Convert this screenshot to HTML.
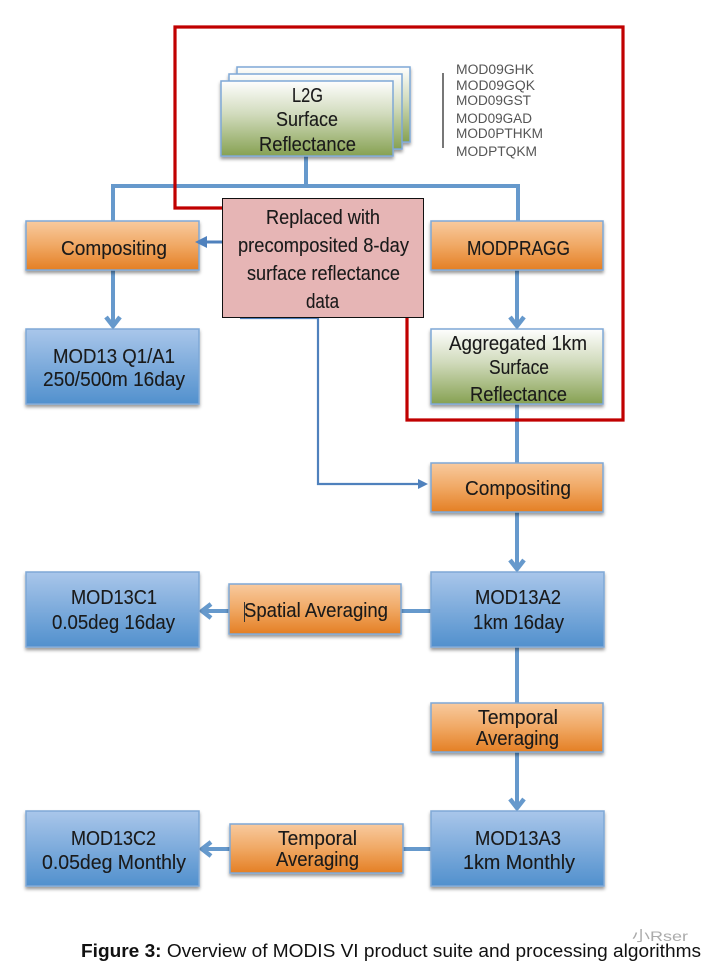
<!DOCTYPE html>
<html>
<head>
<meta charset="utf-8">
<style>
html,body{margin:0;padding:0;background:#fff}
svg{display:block;filter:blur(.35px)}
.t{font-family:"Liberation Sans",sans-serif;font-size:20.500px;fill:#1a1a1a;stroke:#1a1a1a;stroke-width:.12}
.m{font-family:"Liberation Sans",sans-serif;font-size:13.500px;fill:#555}
.c{font-family:"Liberation Sans",sans-serif;font-size:18.500px;fill:#111}
</style>
</head>
<body>
<svg width="708" height="966" viewBox="0 0 708 966" xmlns="http://www.w3.org/2000/svg">
<defs>
<linearGradient id="o" x1="0" y1="0" x2="0" y2="1"><stop offset="0" stop-color="#f8ca9f"/><stop offset=".5" stop-color="#f0a864"/><stop offset="1" stop-color="#e47f24"/></linearGradient>
<linearGradient id="b" x1="0" y1="0" x2="0" y2="1"><stop offset="0" stop-color="#a9c6ea"/><stop offset="1" stop-color="#5190cd"/></linearGradient>
<linearGradient id="g" x1="0" y1="0" x2="0" y2="1"><stop offset="0" stop-color="#fefefe"/><stop offset=".45" stop-color="#d0dabb"/><stop offset="1" stop-color="#86a152"/></linearGradient>
<filter id="s" x="-5%" y="-10%" width="110%" height="125%"><feDropShadow dx="0" dy="2.500" stdDeviation="1.500" flood-color="#000" flood-opacity=".4"/></filter>
</defs>

<!-- blue connectors -->
<g fill="none" stroke="#6699cc" stroke-width="4">
<path d="M306 156V186M113 221V186H518V221"/>
<path d="M113 270V326M517 270V326M517 404V463M517 512V569M517 647V703M517 752V808"/>
<path d="M431 611H401M229 611H203M431 849H403M230 849H203"/>
</g>
<g fill="none" stroke="#6699cc" stroke-width="4.500">
<path d="M106 317L113 326L120 317M510 317L517 326L524 317M510 560L517 569L524 560M510 799L517 808L524 799M211 604L202 611L211 618M211 842L202 849L211 856"/>
</g>

<!-- red outline -->
<path d="M222 208H175V27H623V420H407V318" fill="none" stroke="#c00000" stroke-width="3.200"/>

<!-- L2G stack -->
<g stroke="#7fa8d6" stroke-width="1.500" filter="url(#s)">
<rect x="237" y="67" width="173" height="75" fill="url(#g)"/>
<rect x="229" y="74" width="173" height="75" fill="url(#g)"/>
<rect x="221" y="81" width="172" height="75" fill="url(#g)"/>
</g>

<!-- boxes -->
<g stroke="#7fa8d6" stroke-width="1.500" filter="url(#s)">
<rect x="26" y="221" width="173" height="49" fill="url(#o)"/>
<rect x="431" y="221" width="172" height="49" fill="url(#o)"/>
<rect x="26" y="329" width="173" height="75" fill="url(#b)"/>
<rect x="431" y="329" width="172" height="75" fill="url(#g)"/>
<rect x="431" y="463" width="172" height="49" fill="url(#o)"/>
<rect x="26" y="572" width="173" height="75" fill="url(#b)"/>
<rect x="431" y="572" width="173" height="75" fill="url(#b)"/>
<rect x="229" y="584" width="172" height="50" fill="url(#o)"/>
<rect x="431" y="703" width="172" height="49" fill="url(#o)"/>
<rect x="26" y="811" width="173" height="75" fill="url(#b)"/>
<rect x="431" y="811" width="173" height="75" fill="url(#b)"/>
<rect x="230" y="824" width="173" height="49" fill="url(#o)"/>
</g>

<!-- thin blue connector & pink box -->
<path d="M240 318H318V484H420" fill="none" stroke="#4f81bd" stroke-width="2.200"/>
<path d="M428 484L418 479V489Z" fill="#4f81bd"/>
<path d="M222 242H204" stroke="#4f81bd" stroke-width="3"/>
<path d="M195 242L207 236V248Z" fill="#4f81bd"/>
<rect x="222.500" y="198.500" width="201" height="119" fill="#e6b5b5" stroke="#111" stroke-width="1"/>

<!-- side list -->
<line x1="443" y1="73" x2="443" y2="148" stroke="#777" stroke-width="2"/>
<text class="m" x="456" y="74" textLength="78" lengthAdjust="spacingAndGlyphs">MOD09GHK</text>
<text class="m" x="456" y="90" textLength="79" lengthAdjust="spacingAndGlyphs">MOD09GQK</text>
<text class="m" x="456" y="105" textLength="75" lengthAdjust="spacingAndGlyphs">MOD09GST</text>
<text class="m" x="456" y="123" textLength="76" lengthAdjust="spacingAndGlyphs">MOD09GAD</text>
<text class="m" x="456" y="138" textLength="87" lengthAdjust="spacingAndGlyphs">MOD0PTHKM</text>
<text class="m" x="456" y="156" textLength="81" lengthAdjust="spacingAndGlyphs">MODPTQKM</text>

<!-- labels -->
<text class="t" x="292" y="102" textLength="31" lengthAdjust="spacingAndGlyphs">L2G</text>
<text class="t" x="276" y="126" textLength="62" lengthAdjust="spacingAndGlyphs">Surface</text>
<text class="t" x="259" y="151" textLength="97" lengthAdjust="spacingAndGlyphs">Reflectance</text>
<text class="t" x="61" y="255" textLength="106" lengthAdjust="spacingAndGlyphs">Compositing</text>
<text class="t" x="467" y="255" textLength="103" lengthAdjust="spacingAndGlyphs">MODPRAGG</text>
<text class="t" x="53" y="363" textLength="122" lengthAdjust="spacingAndGlyphs">MOD13 Q1/A1</text>
<text class="t" x="43" y="386" textLength="142" lengthAdjust="spacingAndGlyphs">250/500m 16day</text>
<text class="t" x="449" y="350" textLength="138" lengthAdjust="spacingAndGlyphs">Aggregated 1km</text>
<text class="t" x="489" y="374" textLength="60" lengthAdjust="spacingAndGlyphs">Surface</text>
<text class="t" x="470" y="401" textLength="97" lengthAdjust="spacingAndGlyphs">Reflectance</text>
<text class="t" x="465" y="495" textLength="106" lengthAdjust="spacingAndGlyphs">Compositing</text>
<text class="t" x="266" y="224" textLength="114" lengthAdjust="spacingAndGlyphs">Replaced with</text>
<text class="t" x="238" y="252" textLength="171" lengthAdjust="spacingAndGlyphs">precomposited 8-day</text>
<text class="t" x="247" y="280" textLength="153" lengthAdjust="spacingAndGlyphs">surface reflectance</text>
<text class="t" x="306" y="308" textLength="33" lengthAdjust="spacingAndGlyphs">data</text>
<text class="t" x="71" y="604" textLength="86" lengthAdjust="spacingAndGlyphs">MOD13C1</text>
<text class="t" x="52" y="629" textLength="123" lengthAdjust="spacingAndGlyphs">0.05deg 16day</text>
<text class="t" x="244" y="617" textLength="144" lengthAdjust="spacingAndGlyphs">Spatial Averaging</text>
<text class="t" x="475" y="604" textLength="86" lengthAdjust="spacingAndGlyphs">MOD13A2</text>
<text class="t" x="473" y="629" textLength="91" lengthAdjust="spacingAndGlyphs">1km 16day</text>
<text class="t" x="478" y="724" textLength="80" lengthAdjust="spacingAndGlyphs">Temporal</text>
<text class="t" x="476" y="745" textLength="83" lengthAdjust="spacingAndGlyphs">Averaging</text>
<text class="t" x="71" y="845" textLength="85" lengthAdjust="spacingAndGlyphs">MOD13C2</text>
<text class="t" x="42" y="869" textLength="144" lengthAdjust="spacingAndGlyphs">0.05deg Monthly</text>
<text class="t" x="278" y="845" textLength="79" lengthAdjust="spacingAndGlyphs">Temporal</text>
<text class="t" x="276" y="866" textLength="83" lengthAdjust="spacingAndGlyphs">Averaging</text>
<text class="t" x="475" y="845" textLength="86" lengthAdjust="spacingAndGlyphs">MOD13A3</text>
<text class="t" x="463" y="869" textLength="112" lengthAdjust="spacingAndGlyphs">1km Monthly</text>
<line x1="244.500" y1="602" x2="244.500" y2="622" stroke="#333" stroke-width="1"/>

<!-- caption -->
<text class="c" x="81" y="957" textLength="620" lengthAdjust="spacingAndGlyphs"><tspan font-weight="bold">Figure 3:</tspan> Overview of MODIS VI product suite and processing algorithms</text>
<text x="632" y="941" font-family="Liberation Sans,sans-serif" font-size="14" fill="#888" opacity=".7" textLength="56" lengthAdjust="spacingAndGlyphs">小Rser</text>
</svg>
</body>
</html>
